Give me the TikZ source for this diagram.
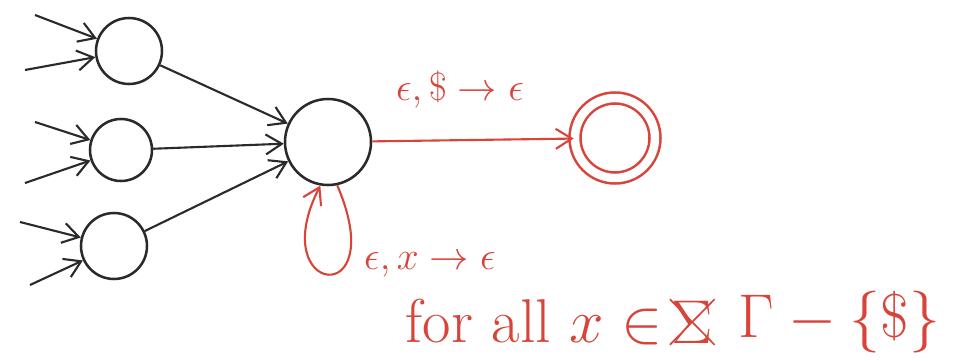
\RequirePackage{fix-cm}
\documentclass[tikz,border=0pt]{standalone}
\usepackage{tikz}
\usetikzlibrary{positioning,arrows.meta}
\definecolor{ink}{HTML}{2A2A2A}
\definecolor{pen}{HTML}{D8443A}
\tikzset{
  state/.style={draw=ink,circle,line width=1.8pt,inner sep=0pt},
  edge/.style={draw=ink,line width=1.5pt,-{Straight Barb[length=4mm,width=5mm]}},
  redge/.style={draw=pen,line width=1.5pt,-{Straight Barb[length=4mm,width=5mm]}},
  lbl/.style={text=pen,inner sep=1pt,font=\fontsize{28}{32}\selectfont},
  note/.style={text=pen,inner sep=1pt,font=\fontsize{44}{48}\selectfont},
}
\begin{document}
\begin{tikzpicture}[x=1cm,y=1cm]
\useasboundingbox (0,0) rectangle (24.1,9);
% states
\node[state,minimum size=1.65cm] (s1) at (3.225,7.725){};
\node[state,minimum size=1.55cm] (s2) at (3.025,5.25){};
\node[state,minimum size=1.65cm] (s3) at (2.85,2.85){};
\node[state,minimum size=2.15cm] (q) at (8.2,5.45){};
\node[state,draw=pen,double,double distance=6pt,minimum size=2cm] (acc) at (15.375,5.55){};
% incoming arrows
\coordinate (i1a) at (0.875,8.625);
\coordinate (i1b) at (0.625,7.25);
\coordinate (i2a) at (0.875,5.95);
\coordinate (i2b) at (0.625,4.425);
\coordinate (i3a) at (0.5,3.45);
\coordinate (i3b) at (0.75,1.875);
\draw[edge] (i1a)--(s1);
\draw[edge] (i1b)--(s1);
\draw[edge] (i2a)--(s2);
\draw[edge] (i2b)--(s2);
\draw[edge] (i3a)--(s3);
\draw[edge] (i3b)--(s3);
\draw[edge] (s1)--(q);
\draw[edge] (s2)--(q);
\draw[edge] (s3)--(q);
% red part
\draw[redge] (q)--(acc);
\draw[redge] (q.-78) .. controls (9.8,1.2) and (6.6,1.6) .. (q.-100);
\node[lbl] (pop) at (11.5,6.75){$\epsilon,\$\rightarrow\epsilon$};
\node[lbl] (loop) at (10.75,2.375){$\epsilon,x\rightarrow\epsilon$};
\node[note,anchor=west] (forall) at (10.1,0.95){for all $x\in$};
\node[note,right=4pt of forall] (sig) {$\Sigma$};
\draw[pen,line width=1.2pt] (sig.south west)--(sig.north east);
\draw[pen,line width=1.2pt] (sig.north west)--(sig.south east);
\node[note,right=16pt of sig] (rest) {$\Gamma-\{\$\}$};
\end{tikzpicture}
\end{document}
